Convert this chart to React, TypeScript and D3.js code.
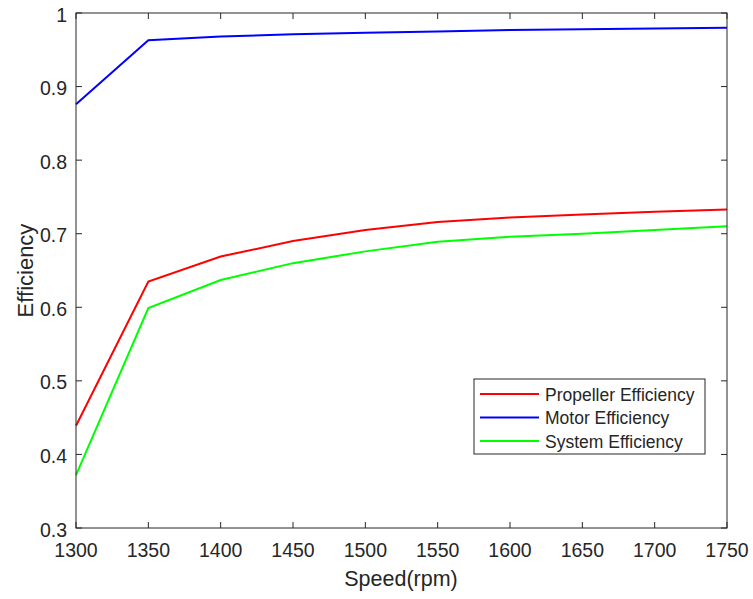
import React from "react";
import * as d3 from "d3";

const speeds = [1300, 1350, 1400, 1450, 1500, 1550, 1600, 1650, 1700, 1750];
const propellerEff = [0.439, 0.635, 0.669, 0.690, 0.705, 0.716, 0.722, 0.726, 0.730, 0.733];
const motorEff = [0.876, 0.963, 0.968, 0.971, 0.973, 0.975, 0.977, 0.978, 0.979, 0.980];
const systemEff = [0.372, 0.599, 0.637, 0.660, 0.676, 0.689, 0.696, 0.700, 0.705, 0.710];
const xTicks = [1300, 1350, 1400, 1450, 1500, 1550, 1600, 1650, 1700, 1750];
const yTicks = [0.3, 0.4, 0.5, 0.6, 0.7, 0.8, 0.9, 1];
const seriesNames = ["Propeller Efficiency", "Motor Efficiency", "System Efficiency"];
const seriesColors = ["#ff0000", "#0000ff", "#00ff00"];

export default function App() {
  const W = 753, H = 599;
  const L = 76, R = 727, T = 13, B = 528;
  const x = d3.scaleLinear().domain([1300, 1750]).range([L, R]);
  const y = d3.scaleLinear().domain([0.3, 1]).range([B, T]);
  const line = d3.line<number>().x((_, i) => x(speeds[i])).y((d) => y(d));
  const series = [propellerEff, motorEff, systemEff];
  const axisColor = "#262626";
  const font = "'Liberation Sans', Arial, Helvetica, sans-serif";
  const tickLen = 6;
  const legX = 474, legY = 379, legW = 231, legH = 75;
  return (
    <svg width={W} height={H} style={{ position: "absolute", left: 0, top: 0 }} fontFamily={font}>
      <rect x={0} y={0} width={W} height={H} fill="#fff" />
      {series.map((s, i) => (
        <path key={i} d={line(s) || ""} fill="none" stroke={seriesColors[i]} strokeWidth={2} />
      ))}
      <rect x={L} y={T} width={R - L} height={B - T} fill="none" stroke={axisColor} strokeWidth={1} />
      {xTicks.map((t) => (
        <g key={t}>
          <line x1={x(t)} x2={x(t)} y1={B} y2={B - tickLen} stroke={axisColor} />
          <line x1={x(t)} x2={x(t)} y1={T} y2={T + tickLen} stroke={axisColor} />
          <text x={x(t)} y={557} textAnchor="middle" fontSize={19.5} fill={axisColor}>{t}</text>
        </g>
      ))}
      {yTicks.map((t) => (
        <g key={t}>
          <line x1={L} x2={L + tickLen} y1={y(t)} y2={y(t)} stroke={axisColor} />
          <line x1={R} x2={R - tickLen} y1={y(t)} y2={y(t)} stroke={axisColor} />
          <text x={67} y={y(t) + 8.5} textAnchor="end" fontSize={19.5} fill={axisColor}>{String(t)}</text>
        </g>
      ))}
      <text x={401} y={586} textAnchor="middle" fontSize={21.5} fill={axisColor}>Speed(rpm)</text>
      <text transform={`translate(33, ${(T + B) / 2}) rotate(-90)`} textAnchor="middle" fontSize={22} fill={axisColor}>Efficiency</text>
      <rect x={legX} y={legY} width={legW} height={legH} fill="#fff" stroke={axisColor} strokeWidth={1} />
      {seriesNames.map((n, i) => (
        <g key={n}>
          <line x1={480} x2={539} y1={394 + i * 23.5} y2={394 + i * 23.5} stroke={seriesColors[i]} strokeWidth={2} />
          <text x={545} y={394 + i * 23.5 + 6.5} fontSize={17.5} fill={axisColor}>{n}</text>
        </g>
      ))}
    </svg>
  );
}
